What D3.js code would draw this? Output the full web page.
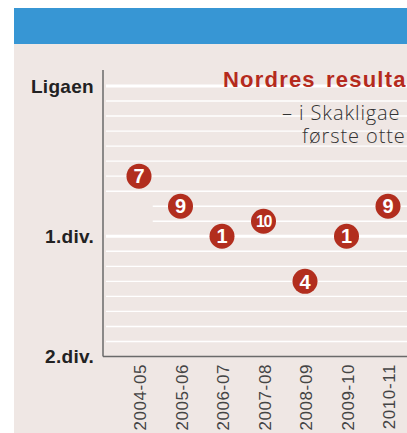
<!DOCTYPE html>
<html>
<head>
<meta charset="utf-8">
<script src="https://cdn.jsdelivr.net/npm/d3@7"></script>
<style>
  html, body { margin: 0; padding: 0; background: #fff; overflow: hidden; }
  svg { display: block; }
</style>
</head>
<body>
<svg id="chart" width="407" height="433"></svg>
<script>
// sesonger og plassering
const seasons = ['2004-05', '2005-06', '2006-07', '2007-08', '2008-09', '2009-10', '2010-11']
const divisions = ['Ligaen', 'Ligaen', '1.div.', 'Ligaen', '1.div.', '1.div.', 'Ligaen']
const ranks = [7, 9, 1, 10, 4, 1, 9]

// nivåer: navn og antall plasser (trinn) i hver divisjon
const levels = ['Ligaen', '1.div.', '2.div.']
const levelSizes = [10, 8, 1]
// plass 9 og 10 i Ligaen fantes først fra 2005-06
const lateRows = [8, 9]

const W = 407
const H = 433
const svg = d3.select('#chart')

const levelStart = {}
let acc = 0
levels.forEach((l, i) => { levelStart[l] = acc; acc += levelSizes[i] })
const totalSteps = levelStart['2.div.']

const x = d3.scalePoint().domain(seasons).range([139, 388])
const y = d3.scaleLinear().domain([0, totalSteps]).range([86, 356.5])

// bakgrunn
svg.append('rect').attr('x', 14).attr('y', 44).attr('width', W - 14).attr('height', H - 44).attr('fill', '#efe7e4')
svg.append('rect').attr('x', 14).attr('y', 8).attr('width', W - 14).attr('height', 36).attr('fill', '#3796d4')

// rutenett
const grid = svg.append('g')
d3.range(0, totalSteps).forEach(s => {
  const thick = s === levelStart['Ligaen'] || s === levelStart['1.div.']
  const x0 = lateRows.includes(s) ? (x('2004-05') + x('2005-06')) / 2 - 7 : 106
  grid.append('line')
    .attr('x1', x0).attr('x2', W)
    .attr('y1', y(s)).attr('y2', y(s))
    .attr('stroke', '#fff')
    .attr('stroke-width', thick ? 3 : 1.4)
})

// akser
svg.append('line')
  .attr('x1', 103).attr('x2', 103).attr('y1', 70).attr('y2', y(totalSteps))
  .attr('stroke', '#6a6a6a').attr('stroke-width', 1.5)
svg.append('line')
  .attr('x1', 103).attr('x2', W).attr('y1', y(totalSteps)).attr('y2', y(totalSteps))
  .attr('stroke', '#6a6a6a').attr('stroke-width', 1.5)

// nivåetiketter
svg.append('g').selectAll('text')
  .data(levels)
  .join('text')
  .attr('x', 94)
  .attr('y', d => y(levelStart[d]))
  .attr('dy', '0.36em')
  .attr('text-anchor', 'end')
  .attr('font-family', 'Liberation Sans, Arial, sans-serif')
  .attr('font-weight', 'bold')
  .attr('font-size', 19)
  .attr('letter-spacing', 0.3)
  .attr('fill', '#222')
  .text(d => d)

// sesongetiketter
svg.append('g').selectAll('text')
  .data(seasons)
  .join('text')
  .attr('transform', d => `translate(${x(d) + 1},364) rotate(-90)`)
  .attr('dy', '0.36em')
  .attr('text-anchor', 'end')
  .attr('font-family', 'Liberation Sans, Arial, sans-serif')
  .attr('font-size', 17)
  .attr('letter-spacing', 0.6)
  .attr('fill', '#444')
  .text(d => d)

// tittel (kuttet i kanten som i originalen)
svg.append('text')
  .attr('x', 223).attr('y', 87)
  .attr('font-family', 'Liberation Sans, Arial, sans-serif')
  .attr('font-weight', 'bold')
  .attr('font-size', 22)
  .attr('letter-spacing', 1.2)
  .attr('word-spacing', 3)
  .attr('fill', '#b52a1d')
  .text('Nordres resulta')

svg.append('text')
  .attr('x', 282).attr('y', 120)
  .attr('font-family', 'Open Sans, sans-serif')
  .attr('font-weight', 300)
  .attr('font-size', 20)
  .attr('letter-spacing', 0.9)
  .attr('fill', '#333')
  .text('– i Skakligae')
svg.append('text')
  .attr('x', 302).attr('y', 143)
  .attr('font-family', 'Open Sans, sans-serif')
  .attr('font-weight', 300)
  .attr('font-size', 20)
  .attr('letter-spacing', 0.9)
  .attr('fill', '#333')
  .text('første otte')

// punkter
const points = seasons.map((s, i) => ({ season: s, div: divisions[i], rank: ranks[i] }))
const dots = svg.append('g').selectAll('g')
  .data(points)
  .join('g')
  .attr('transform', d => `translate(${x(d.season)},${y(levelStart[d.div] + d.rank - 1)})`)
dots.append('circle')
  .attr('r', 12.5)
  .attr('fill', '#b22e1e')
dots.append('text')
  .attr('text-anchor', 'middle')
  .attr('dy', '0.36em')
  .attr('font-family', 'Liberation Sans, Arial, sans-serif')
  .attr('font-weight', 'bold')
  .attr('font-size', d => d.rank >= 10 ? 16 : 20)
  .attr('letter-spacing', d => d.rank >= 10 ? -1.5 : 0)
  .attr('fill', '#fff')
  .text(d => d.rank)
</script>
</body>
</html>
